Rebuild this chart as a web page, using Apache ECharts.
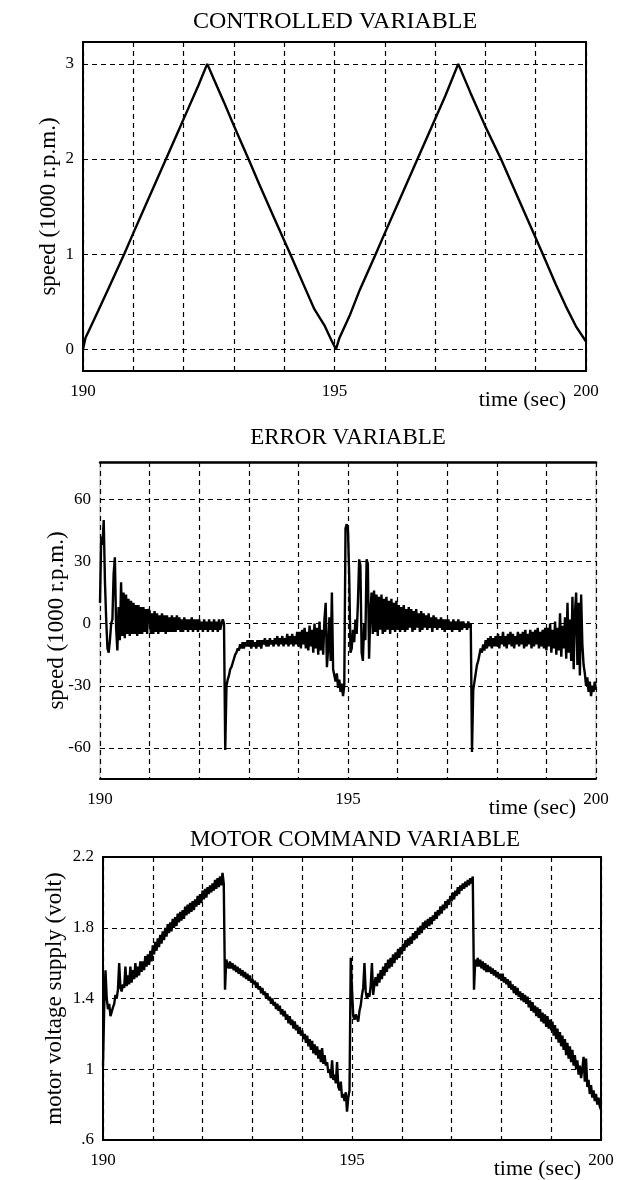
<!DOCTYPE html>
<html><head><meta charset="utf-8">
<script src="https://cdn.jsdelivr.net/npm/echarts@6/dist/echarts.min.js"></script>
<style>html,body{margin:0;padding:0;background:#fff}#c{width:620px;height:1180px}</style>
</head><body><div id="c"></div>
<script>
// ---------- data ----------
const timeTicks = [190, 195, 200];

const speedTime  = [190, 190.05, 190.14, 190.3, 190.5, 190.82, 191.0, 191.2, 191.4, 191.65, 191.9, 192.1, 192.3, 192.47,
  192.6, 192.8, 193.0, 193.29, 193.5, 193.8, 194.12, 194.4, 194.6, 194.8, 194.95, 195.03,
  195.1, 195.3, 195.5, 195.82, 196.0, 196.3, 196.65, 196.9, 197.2, 197.46,
  197.7, 198.0, 198.31, 198.6, 198.9, 199.14, 199.4, 199.6, 199.8, 200];
const speedValue = [0, 0.12, 0.22, 0.4, 0.63, 1.0, 1.22, 1.46, 1.7, 2.0, 2.3, 2.54, 2.78, 3.0,
  2.84, 2.6, 2.35, 2.0, 1.74, 1.38, 1.0, 0.66, 0.42, 0.25, 0.08, 0.0,
  0.12, 0.35, 0.62, 1.0, 1.22, 1.58, 2.0, 2.3, 2.66, 3.0,
  2.7, 2.34, 2.0, 1.65, 1.29, 1.0, 0.68, 0.45, 0.24, 0.08];
const speedTicks = [0, 1, 2, 3];

// error and motor command are sampled every 0.025 s from 190 s
const sampleStart = 190, sampleStep = 0.025;
const errorValue = [
  10, 42, 38, 50, 20, 2, -12, -14, -8, 0, 2, 24, 32, -2, -13, 8, -8, 20, -6, 15,
  -7, 14, -5, 12, -6, 11, -5, 10, -5, 9, -6, 9, -5, 8, -5, 8, -4, 7, -5, 7,
  6, -5, 5, -5, 6, -4, 5, -5, 4, -4, 5, -4, 4, -5, 4, -4, 3, -4, 4, -4,
  3, -4, 4, -3, 3, -4, 2, -4, 3, -3, 2, -4, 2, -3, 3, -4, 2, -3, 2, -4,
  2, -3, 1, -4, 2, -3, 1, -4, 2, -3, 1, -4, 2, -3, 1, -4, 2, -3, 0, 2,
  0, -61, -30, -27, -25, -22, -21, -19, -17, -15, -14, -12, -13, -10, -12, -9, -12, -9, -11, -8,
  -11, -8, -12, -8, -11, -9, -12, -8, -11, -8, -12, -8, -10, -7, -11, -8, -11, -7, -10, -8,
  -11, -7, -10, -6, -11, -7, -10, -6, -11, -7, -10, -5, -11, -6, -10, -5, -11, -6, -10, -4,
  -11, -4, -12, -3, -10, -2, -12, -4, -13, -1, -11, -3, -14, 0, -12, -2, -15, 1, -13, -3,
  -15, 2, 10, -21, -12, 3, -18, 15, -22, -25, -28, -24, -31, -27, -33, -29, -35, -30, 46, 48,
  45, 22, -14, -12, -3, -9, 2, -5, 10, 31, 28, -14, -18, 0, -8, 31, 29, -17, 5, 15,
  -5, 16, -4, 14, -6, 13, -3, 14, -5, 12, -4, 13, -3, 11, -5, 12, -3, 10, -4, 11,
  -3, 9, -4, 8, -3, 9, -4, 7, -3, 8, -2, 7, -4, 6, -3, 7, -2, 5, -4, 6,
  -3, 5, -2, 4, -3, 5, -2, 3, -4, 4, -2, 3, -3, 2, -2, 3, -3, 2, -4, 2,
  -3, 2, -3, 1, -4, 2, -3, 1, -3, 2, -4, 1, -3, 1, -2, 0, -3, 1, -2, 0,
  -62, -32, -28, -24, -20, -18, -15, -12, -14, -10, -13, -8, -12, -7, -11, -6, -12, -7, -11, -6,
  -11, -5, -12, -6, -10, -4, -11, -6, -12, -5, -10, -4, -11, -5, -12, -6, -10, -4, -11, -5,
  -10, -4, -12, -3, -11, -5, -10, -3, -12, -4, -11, -3, -10, -2, -12, -4, -11, -3, -12, -2,
  -13, -2, -11, 0, -14, -3, -12, 1, -15, -2, -13, 5, -16, -1, -12, 3, -17, 10, -14, 2,
  -18, 13, -22, 5, 15, -20, 10, -25, 14, -10, -20, -24, -30, -26, -33, -28, -35, -30, -33, -28,
  -32
];
const errorTicks = [-60, -30, 0, 30, 60];

const voltValue = [
  1.02, 1.36, 1.56, 1.40, 1.34, 1.37, 1.30, 1.31, 1.35, 1.37, 1.42, 1.40, 1.45, 1.60, 1.46, 1.44, 1.48, 1.46, 1.58, 1.47,
  1.53, 1.48, 1.58, 1.49, 1.56, 1.51, 1.60, 1.52, 1.58, 1.53, 1.61, 1.55, 1.61, 1.56, 1.64, 1.58, 1.65, 1.59, 1.67, 1.61,
  1.70, 1.65, 1.72, 1.67, 1.74, 1.69, 1.76, 1.71, 1.78, 1.73, 1.80, 1.75, 1.82, 1.77, 1.83, 1.78, 1.85, 1.80, 1.86, 1.81,
  1.88, 1.83, 1.89, 1.84, 1.90, 1.85, 1.92, 1.87, 1.93, 1.88, 1.94, 1.89, 1.95, 1.90, 1.96, 1.92, 1.98, 1.93, 1.99, 1.94,
  2.01, 1.96, 2.02, 1.97, 2.03, 1.99, 2.04, 2.00, 2.05, 2.01, 2.07, 2.02, 2.08, 2.03, 2.09, 2.04, 2.11, 2.05, 1.45, 1.62,
  1.61, 1.57, 1.61, 1.57, 1.60, 1.56, 1.59, 1.55, 1.58, 1.54, 1.57, 1.53, 1.56, 1.52, 1.55, 1.51, 1.54, 1.50, 1.53, 1.49,
  1.51, 1.48, 1.50, 1.46, 1.49, 1.45, 1.47, 1.43, 1.46, 1.42, 1.44, 1.40, 1.43, 1.39, 1.41, 1.37, 1.40, 1.36, 1.38, 1.34,
  1.37, 1.33, 1.36, 1.31, 1.34, 1.30, 1.33, 1.28, 1.31, 1.26, 1.30, 1.25, 1.28, 1.23, 1.27, 1.22, 1.25, 1.20, 1.24, 1.19,
  1.22, 1.17, 1.20, 1.15, 1.19, 1.13, 1.17, 1.11, 1.16, 1.09, 1.14, 1.08, 1.13, 1.06, 1.11, 1.04, 1.12, 1.03, 1.08, 1.02,
  1.04, 0.98, 1.00, 0.95, 1.05, 0.94, 0.97, 0.92, 1.04, 0.90, 0.88, 0.93, 0.84, 0.86, 0.82, 0.87, 0.76, 0.84, 0.88, 1.63,
  1.45, 1.30, 1.28, 1.31, 1.29, 1.27, 1.33, 1.36, 1.42, 1.46, 1.60, 1.44, 1.40, 1.43, 1.41, 1.47, 1.60, 1.42, 1.48, 1.52,
  1.47, 1.54, 1.49, 1.56, 1.51, 1.58, 1.53, 1.60, 1.55, 1.62, 1.57, 1.63, 1.58, 1.65, 1.60, 1.66, 1.62, 1.68, 1.63, 1.69,
  1.65, 1.71, 1.67, 1.73, 1.69, 1.74, 1.70, 1.75, 1.71, 1.77, 1.73, 1.78, 1.74, 1.80, 1.76, 1.81, 1.77, 1.83, 1.79, 1.84,
  1.80, 1.85, 1.81, 1.86, 1.82, 1.87, 1.84, 1.89, 1.85, 1.90, 1.87, 1.92, 1.88, 1.93, 1.90, 1.95, 1.91, 1.96, 1.93, 1.98,
  1.95, 2.00, 1.96, 2.01, 1.98, 2.03, 1.99, 2.04, 2.01, 2.05, 2.02, 2.06, 2.03, 2.07, 2.04, 2.08, 2.05, 2.09, 1.45, 1.62,
  1.58, 1.63, 1.58, 1.62, 1.57, 1.61, 1.56, 1.60, 1.55, 1.59, 1.55, 1.58, 1.54, 1.57, 1.53, 1.56, 1.52, 1.55, 1.51, 1.54,
  1.50, 1.54, 1.49, 1.52, 1.48, 1.51, 1.46, 1.50, 1.45, 1.48, 1.43, 1.47, 1.42, 1.46, 1.41, 1.44, 1.39, 1.43, 1.38, 1.42,
  1.37, 1.41, 1.35, 1.39, 1.33, 1.38, 1.32, 1.36, 1.30, 1.35, 1.29, 1.34, 1.27, 1.32, 1.26, 1.31, 1.24, 1.30, 1.23, 1.28,
  1.22, 1.27, 1.19, 1.25, 1.17, 1.23, 1.15, 1.21, 1.13, 1.19, 1.11, 1.17, 1.08, 1.15, 1.06, 1.13, 1.04, 1.11, 1.02, 1.08,
  1.00, 1.05, 0.97, 1.02, 0.95, 1.00, 1.07, 0.93, 1.06, 0.90, 0.94, 0.86, 0.91, 0.84, 0.88, 0.82, 0.86, 0.80, 0.84, 0.79,
  0.77
];
const voltTicks = [0.6, 1, 1.4, 1.8, 2.2];

// ---------- chart ----------
const FONT = "'Liberation Serif', 'DejaVu Serif', serif";
const pairs = (t, v) => v.map((y, i) => [t[i], y]);
const sampled = v => v.map((y, i) => [+(sampleStart + i * sampleStep).toFixed(3), y]);

const grids = [
  {left: 83, top: 42, width: 503, height: 329},
  {left: 100, top: 462, width: 496, height: 317},
  {left: 103, top: 857, width: 498, height: 283}
];
const dash = {type: [5, 4], color: '#000', width: 1.2};

function xAxis(i) {
  return {
    gridIndex: i, type: 'value', min: 190, max: 200, interval: 1,
    axisLine: {show: true, onZero: false, lineStyle: {color: '#000', width: 2}},
    axisTick: {show: false},
    splitLine: {show: true, lineStyle: dash},
    axisLabel: {color: '#000', fontFamily: FONT, fontSize: 17, margin: 12,
      formatter: v => timeTicks.includes(v) ? String(v) : ''},
    name: 'time (sec)', nameLocation: 'end', nameGap: -20,
    nameTextStyle: {color: '#000', fontFamily: FONT, fontSize: 22, align: 'right',
      verticalAlign: 'top', padding: [18, 0, 0, 0]}
  };
}
function yAxis(i, min, max, ticks, name, gap, fmt, lineShow) {
  return {
    gridIndex: i, type: 'value', min, max,
    axisLine: {show: lineShow, onZero: false, lineStyle: {color: '#000', width: 2}},
    axisTick: {show: false},
    splitLine: {show: false},
    axisLabel: {color: '#000', fontFamily: FONT, fontSize: 17, margin: 9,
      customValues: ticks, formatter: fmt || (v => String(v))},
    name, nameLocation: 'middle', nameGap: gap, nameMoveOverlap: false,
    nameTextStyle: {color: '#000', fontFamily: FONT, fontSize: 23}
  };
}
function gridMarks(ticks) {
  return {silent: true, symbol: ['none', 'none'], label: {show: false},
    lineStyle: dash, animation: false, data: ticks.map(v => ({yAxis: v}))};
}

const option = {
  animation: false,
  backgroundColor: '#fff',
  grid: grids.map((g, i) => Object.assign({show: true, borderColor: i === 1 ? '#bbb' : '#000',
    borderWidth: i === 1 ? 1 : 2, backgroundColor: 'transparent'}, g)),
  xAxis: [xAxis(0), xAxis(1), xAxis(2),
    {gridIndex: 1, type: 'value', position: 'top', min: 190, max: 200,
     axisLine: {show: true, onZero: false, lineStyle: {color: '#000', width: 2.5}},
     axisTick: {show: false}, axisLabel: {show: false}, splitLine: {show: false}}],
  yAxis: [
    yAxis(0, -0.23, 3.23, speedTicks, 'speed (1000 r.p.m.)', 23, null, true),
    yAxis(1, -75, 78, errorTicks, 'speed (1000 r.p.m.)', 32, null, false),
    yAxis(2, 0.6, 2.2, voltTicks, 'motor voltage supply (volt)', 37,
      v => (Math.abs(v - 0.6) < 1e-9 ? '.6' : String(+v.toFixed(1))), true)
  ],
  series: [
    {type: 'line', xAxisIndex: 0, yAxisIndex: 0, data: pairs(speedTime, speedValue),
     showSymbol: false, lineStyle: {color: '#000', width: 2.4}, markLine: gridMarks(speedTicks)},
    {type: 'line', xAxisIndex: 1, yAxisIndex: 1, data: sampled(errorValue),
     showSymbol: false, lineStyle: {color: '#000', width: 2.4}, markLine: gridMarks(errorTicks)},
    {type: 'line', xAxisIndex: 2, yAxisIndex: 2, data: sampled(voltValue),
     showSymbol: false, lineStyle: {color: '#000', width: 2.4},
     markLine: gridMarks(voltTicks.slice(1, -1))}
  ],
  graphic: [
    {type: 'text', x: 335, y: 22, style: {text: 'CONTROLLED VARIABLE', fill: '#000',
      font: '24px ' + FONT, textAlign: 'center', textVerticalAlign: 'middle'}},
    {type: 'text', x: 348, y: 438, style: {text: 'ERROR VARIABLE', fill: '#000',
      font: '23px ' + FONT, textAlign: 'center', textVerticalAlign: 'middle'}},
    {type: 'text', x: 355, y: 840, style: {text: 'MOTOR COMMAND VARIABLE', fill: '#000',
      font: '23px ' + FONT, textAlign: 'center', textVerticalAlign: 'middle'}}
  ]
};
echarts.init(document.getElementById('c')).setOption(option);
</script>
</body></html>
